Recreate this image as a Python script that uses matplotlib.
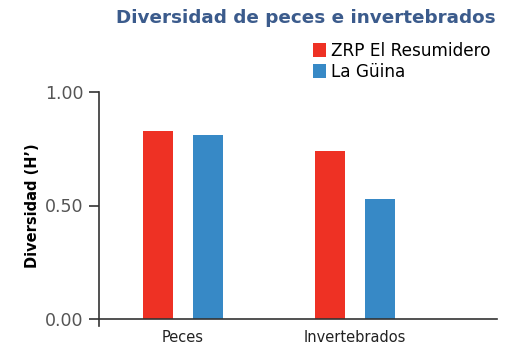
import matplotlib.pyplot as plt
import numpy as np

categories = ["Peces", "Invertebrados"]
resumidero = [0.83, 0.74]
guina = [0.81, 0.53]
series_names = ["ZRP El Resumidero", "La Güina"]
yticks = [0.0, 0.5, 1.0]
ytick_labels = ["0.00", "0.50", "1.00"]

red = "#EE3124"
blue = "#3789C6"

W, H = 507, 347
fig = plt.figure(figsize=(W / 100, H / 100), dpi=100)
# axes box in pixels: left 99, right 497, top 92, bottom 319
ax = fig.add_axes([99 / W, 1 - 319 / H, (497 - 99) / W, (319 - 92) / H])

x = np.arange(len(categories))
bw = 0.174
off = 0.145
ax.bar(x - off, resumidero, bw, color=red, label=series_names[0])
ax.bar(x + off, guina, bw, color=blue, label=series_names[1])

ax.set_xlim(-0.488, 1.826)
ax.set_ylim(0, 1.0)
ax.set_yticks(yticks)
ax.set_yticklabels(ytick_labels, fontsize=12.5, color="#555555")
ax.set_xticks(x)
ax.set_xticklabels(categories, fontsize=10.5, color="#222222")
ax.tick_params(axis="x", length=0, pad=8)
ax.tick_params(axis="y", length=7, width=1.2, color="#333333", pad=4)

for s in ["top", "right"]:
    ax.spines[s].set_visible(False)
ax.spines["left"].set_color("#333333")
ax.spines["bottom"].set_color("#333333")
ax.spines["left"].set_linewidth(1.2)
ax.spines["bottom"].set_linewidth(1.2)
ax.spines["left"].set_bounds(-0.03, 1.0)

ax.set_ylabel("Diversidad (H’)", fontsize=10.5, fontweight="bold", labelpad=4)

fig.text(496 / W, 1 - 18 / H, "Diversidad de peces e invertebrados",
         ha="right", va="center", fontsize=13.2, fontweight="bold", color="#3B5B8C")

ax.legend(loc="upper left", bbox_to_anchor=(313 / W, 1 - 42 / H),
          bbox_transform=fig.transFigure, frameon=False, fontsize=12.2,
          handlelength=0.75, handleheight=0.9, handletextpad=0.3,
          labelspacing=0.15, borderaxespad=0, borderpad=0)

fig.savefig("out.png", dpi=100)
